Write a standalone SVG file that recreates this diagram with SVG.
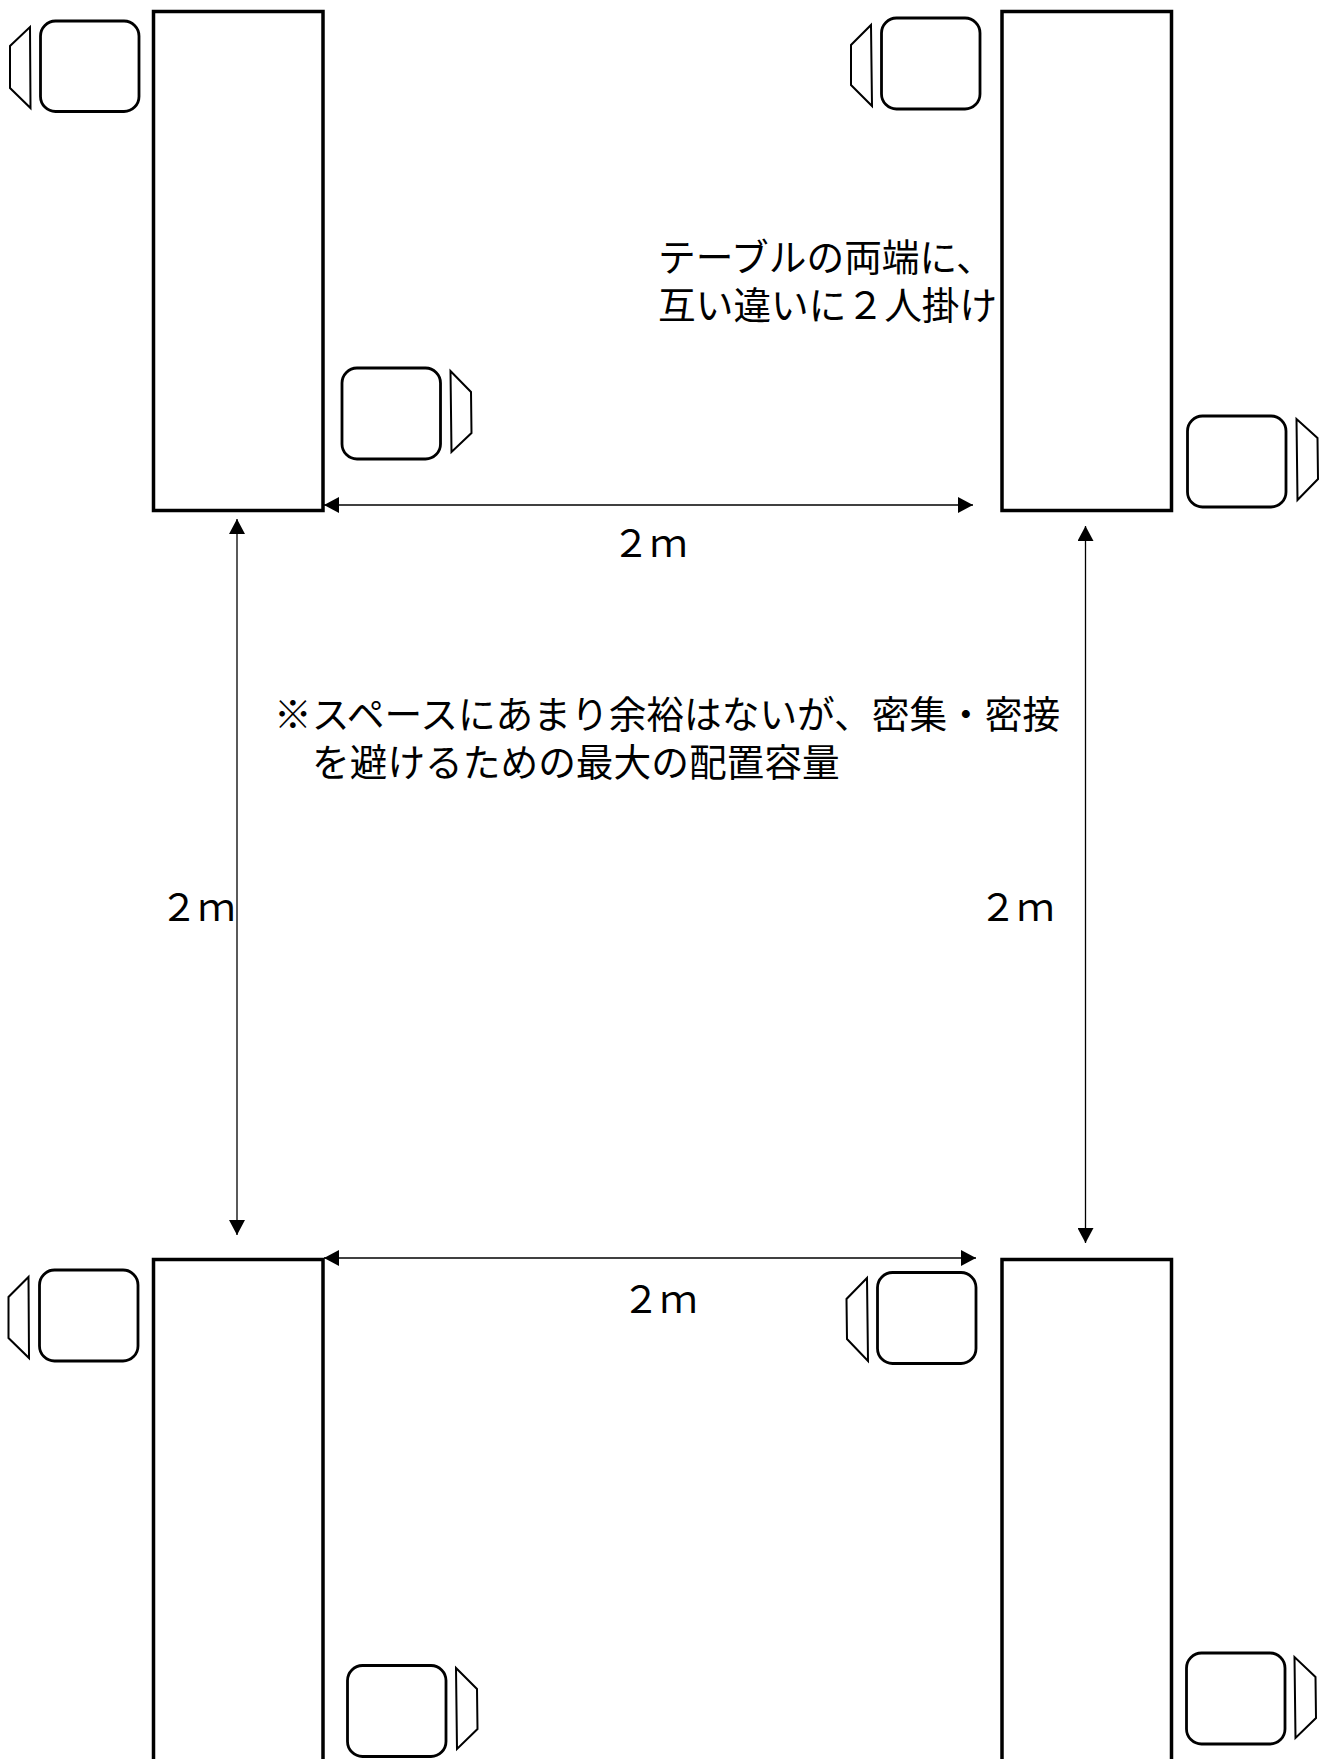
<svg xmlns="http://www.w3.org/2000/svg" width="1328" height="1759" viewBox="0 0 1328 1759">
<style>
text{font-family:"Noto Sans CJK JP","Noto Sans",sans-serif;font-size:37.700px;font-weight:400;fill:#000}
.table{fill:#fff;stroke:#000;stroke-width:3.500}
.seat{fill:#fff;stroke:#000;stroke-width:2.800}
.back{fill:#fff;stroke:#000;stroke-width:2}
.dim{fill:none;stroke:#000;stroke-width:1.300;marker-start:url(#a);marker-end:url(#a)}
</style>
<defs>
<marker id="a" viewBox="0 0 15 16" refX="15" refY="8" markerWidth="15" markerHeight="16" markerUnits="userSpaceOnUse" orient="auto-start-reverse"><path d="M0 0L15 8L0 16Z" fill="#000"/></marker>
</defs>
<rect width="1328" height="1759" fill="#fff"/>
<g id="table-tl"><rect class="table" x="153.500" y="11.500" width="169.500" height="499"/></g>
<g id="table-tr"><rect class="table" x="1002" y="11.500" width="169.500" height="499"/></g>
<g id="table-bl"><rect class="table" x="153.500" y="1259.500" width="169.500" height="520"/></g>
<g id="table-br"><rect class="table" x="1002" y="1259.500" width="169.500" height="520"/></g>
<g id="chair-tl"><rect class="seat" x="40.500" y="21" width="98.500" height="90.500" rx="15"/><path class="back" d="M30 27L30.500 108L10 88L10 46Z"/></g>
<g id="chair-tl2"><rect class="seat" x="342" y="368" width="98.500" height="91" rx="15"/><path class="back" d="M450.500 371L451.500 452L471.500 433L471 392Z"/></g>
<g id="chair-tr"><rect class="seat" x="881.500" y="18" width="98.500" height="91" rx="15"/><path class="back" d="M871 25L872 106L851 85L851 45Z"/></g>
<g id="chair-tr2"><rect class="seat" x="1187.500" y="416" width="98.500" height="91" rx="15"/><path class="back" d="M1296.500 419L1297.500 500L1318 479L1317.500 438Z"/></g>
<g id="chair-bl"><rect class="seat" x="39.500" y="1270" width="98.500" height="91" rx="15"/><path class="back" d="M28.500 1277L29 1358L8.500 1338L8.500 1297Z"/></g>
<g id="chair-bl2"><rect class="seat" x="347.500" y="1665.500" width="98.500" height="91" rx="15"/><path class="back" d="M456 1668L457 1749L477.500 1729L477 1689Z"/></g>
<g id="chair-br"><rect class="seat" x="877.500" y="1272.500" width="98.500" height="91" rx="15"/><path class="back" d="M867 1278L868 1361L847 1339L846.500 1299Z"/></g>
<g id="chair-br2"><rect class="seat" x="1186.500" y="1653" width="98.500" height="91" rx="15"/><path class="back" d="M1294.500 1657L1295.500 1738L1316 1718L1315.500 1677Z"/></g>
<g id="connectors">
<path class="dim" d="M324 505H973"/>
<path class="dim" d="M324 1258H976"/>
<path class="dim" d="M237 519V1235"/>
<path class="dim" d="M1085.500 526V1243"/>
</g>
<g id="labels">
<text><tspan x="658" y="271">テーブルの両端に、</tspan><tspan x="658" y="319">互い違いに２人掛け</tspan></text>
<text><tspan x="274" y="728">※スペースにあまり余裕はないが、密集・密接</tspan><tspan x="312" y="776">を避けるための最大の配置容量</tspan></text>
<text x="612" y="557">２ｍ</text>
<text x="160" y="921">２ｍ</text>
<text x="979" y="921">２ｍ</text>
<text x="622" y="1313">２ｍ</text>
</g>
</svg>
